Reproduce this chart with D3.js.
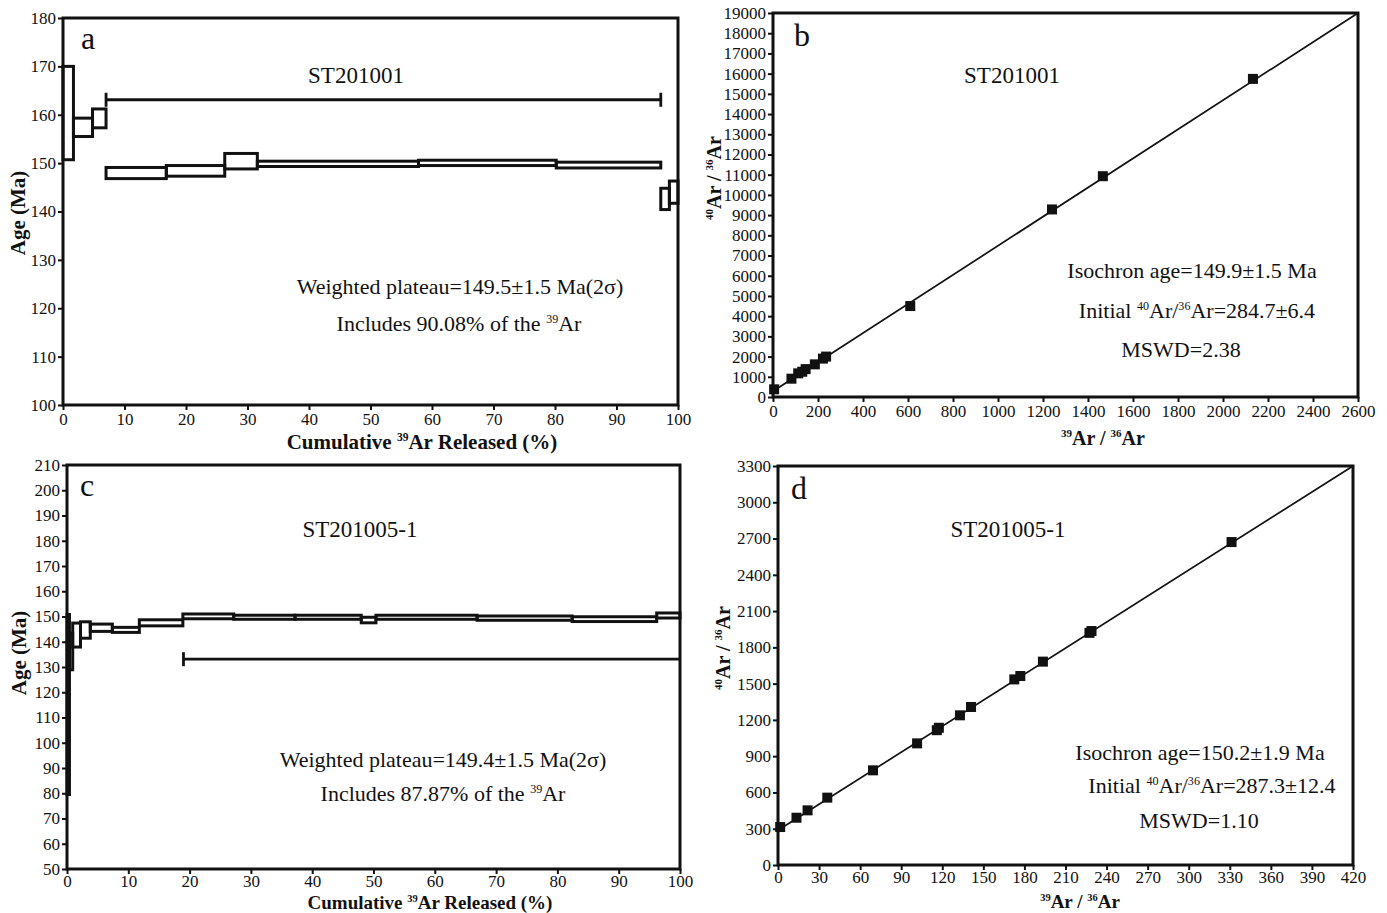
<!DOCTYPE html>
<html>
<head>
<meta charset="utf-8">
<script src="https://cdn.jsdelivr.net/npm/d3@7"></script>
<style>
  body { margin: 0; background: #fff; }
  svg text { font-family: "Liberation Serif", "Times New Roman", serif; fill: #111; }
</style>
</head>
<body>
<script>
// ---- panel a : ST201001 age spectrum ----
var stepsA_x  = [0, 1.7, 4.8, 7.0, 16.8, 26.3, 31.6, 57.8, 80.2, 97.2, 98.6, 100]
var stepsA_lo = [150.7, 155.5, 157.3, 146.8, 147.3, 148.8, 149.3, 149.5, 149.0, 140.4, 141.7]
var stepsA_hi = [170.0, 159.3, 161.2, 149.1, 149.5, 152.0, 150.4, 150.6, 150.2, 144.8, 146.3]
var plateauA = {from: 7.0, to: 97.2, age: 163.1, capL: true, capR: true}

// ---- panel c : ST201005-1 age spectrum ----
var stepsC_x  = [0, 0.4, 0.93, 2.2, 3.8, 7.4, 11.8, 18.9, 27.2, 37.2, 48.0, 50.4, 66.9, 82.4, 96.2, 100]
var stepsC_lo = [79.5, 128.9, 137.9, 141.4, 144.1, 143.7, 146.3, 149.1, 148.9, 148.9, 147.5, 148.9, 148.5, 148.0, 149.4]
var stepsC_hi = [150.8, 143.4, 147.4, 147.9, 147.0, 145.7, 148.7, 151.0, 150.5, 150.5, 149.7, 150.5, 150.2, 149.9, 151.4]
var plateauC = {from: 19.0, to: 100, age: 133.1, capL: true, capR: false}

// ---- panel b : ST201001 isochron ----
var isoB_x = [5, 82, 112, 130, 145, 186, 222, 236, 610, 1240, 1466, 2133]
var isoB_y = [380, 906, 1170, 1250, 1380, 1615, 1900, 2000, 4500, 9280, 10925, 15740]
var lineB = [[0, 284.7], [2600, 19000]]

// ---- panel d : ST201005-1 isochron ----
var isoD_x = [1.6, 13.5, 21.6, 36, 69.4, 101.6, 116, 117.5, 132.9, 141, 172.6, 177, 193.5, 227.5, 229, 331.3]
var isoD_y = [314, 391, 452, 557, 783, 1006, 1115, 1135, 1238, 1307, 1535, 1563, 1682, 1920, 1935, 2671]
var lineD = [[0, 287.3], [420, 3300]]

var ticksA_y = d3.range(100, 181, 10), ticksPct = d3.range(0, 101, 10)
var ticksC_y = d3.range(50, 211, 10)
var ticksB_x = d3.range(0, 2601, 200), ticksB_y = d3.range(0, 19001, 1000)
var ticksD_x = d3.range(0, 421, 30), ticksD_y = d3.range(0, 3301, 300)

var svg = d3.select("body").append("svg").attr("width", 1387).attr("height", 913)

function frame(x, y, xt, yt, pad) {
  var g = svg.append("g")
  g.append("g").attr("transform", "translate(0," + y.range()[0] + ")")
    .call(d3.axisBottom(x).tickValues(xt).tickSize(5).tickPadding(pad).tickFormat(d3.format("d")))
  g.append("g").attr("transform", "translate(" + x.range()[0] + ",0)")
    .call(d3.axisLeft(y).tickValues(yt).tickSize(5).tickPadding(2).tickFormat(d3.format("d")))
  g.selectAll(".domain").remove()
  g.selectAll(".tick line").attr("stroke", "#111").attr("stroke-width", 2)
  g.selectAll(".tick text").attr("font-size", 17).attr("font-family", "Liberation Serif").attr("fill", "#222")
  g.append("rect")
    .attr("x", x.range()[0]).attr("y", y.range()[1])
    .attr("width", x.range()[1] - x.range()[0]).attr("height", y.range()[0] - y.range()[1])
    .attr("fill", "none").attr("stroke", "#111").attr("stroke-width", 3)
  return g
}

function label(txt, x, y, size, opts) {
  opts = opts || {}
  var t = svg.append("text").attr("x", x).attr("y", y).attr("font-size", size)
    .attr("text-anchor", opts.anchor || "middle")
  if (opts.bold) t.attr("font-weight", "bold")
  if (opts.rot) t.attr("transform", "rotate(-90," + x + "," + y + ")")
  // txt is a list of [string, superscript?]
  var raised = false
  txt.forEach(function(p) {
    if (p[1]) {
      t.append("tspan").attr("font-size", size * 0.55).attr("dy", raised ? 0 : -size * 0.38).text(p[0])
      raised = true
    } else {
      var s = t.append("tspan").text(p[0])
      if (raised) s.attr("dy", size * 0.38)
      raised = false
    }
  })
  return t
}

function spectrum(x, y, xs, lo, hi, plat) {
  var g = svg.append("g")
  g.selectAll("rect").data(lo).enter().append("rect")
    .attr("x", function(d, i) { return x(xs[i]) })
    .attr("width", function(d, i) { return x(xs[i + 1]) - x(xs[i]) })
    .attr("y", function(d, i) { return y(hi[i]) })
    .attr("height", function(d, i) { return y(lo[i]) - y(hi[i]) })
    .attr("fill", "none").attr("stroke", "#111").attr("stroke-width", 3)
  var py = y(plat.age)
  g.append("line").attr("x1", x(plat.from)).attr("x2", x(plat.to)).attr("y1", py).attr("y2", py)
    .attr("stroke", "#111").attr("stroke-width", 2.8)
  if (plat.capL) g.append("line").attr("x1", x(plat.from)).attr("x2", x(plat.from))
    .attr("y1", py - 7).attr("y2", py + 7).attr("stroke", "#111").attr("stroke-width", 2.8)
  if (plat.capR) g.append("line").attr("x1", x(plat.to)).attr("x2", x(plat.to))
    .attr("y1", py - 7).attr("y2", py + 7).attr("stroke", "#111").attr("stroke-width", 2.8)
}

function isochron(x, y, xs, ys, ln) {
  var g = svg.append("g")
  g.append("line").attr("x1", x(ln[0][0])).attr("y1", y(ln[0][1]))
    .attr("x2", x(ln[1][0])).attr("y2", y(ln[1][1])).attr("stroke", "#111").attr("stroke-width", 1.7)
  g.selectAll("rect").data(xs).enter().append("rect")
    .attr("x", function(d) { return x(d) - 5 })
    .attr("y", function(d, i) { return y(ys[i]) - 5 })
    .attr("width", 10).attr("height", 10).attr("fill", "#111")
}

// ---- scales ----
var xA = d3.scaleLinear().domain([0, 100]).range([63, 678])
var yA = d3.scaleLinear().domain([100, 180]).range([405, 18])
var xB = d3.scaleLinear().domain([0, 2600]).range([773, 1358])
var yB = d3.scaleLinear().domain([0, 19000]).range([397, 13])
var xC = d3.scaleLinear().domain([0, 100]).range([67, 680])
var yC = d3.scaleLinear().domain([50, 210]).range([869, 465])
var xD = d3.scaleLinear().domain([0, 420]).range([778, 1353])
var yD = d3.scaleLinear().domain([0, 3300]).range([865, 466])

frame(xA, yA, ticksPct, ticksA_y, 3)
frame(xB, yB, ticksB_x, ticksB_y, 3)
frame(xC, yC, ticksPct, ticksC_y, 1)
frame(xD, yD, ticksD_x, ticksD_y, 1)

spectrum(xA, yA, stepsA_x, stepsA_lo, stepsA_hi, plateauA)
spectrum(xC, yC, stepsC_x, stepsC_lo, stepsC_hi, plateauC)
isochron(xB, yB, isoB_x, isoB_y, lineB)
isochron(xD, yD, isoD_x, isoD_y, lineD)

// panel letters and sample names
label([["a"]], 81, 49, 32, {anchor: "start"})
label([["b"]], 794, 46, 32, {anchor: "start"})
label([["c"]], 80, 496, 32, {anchor: "start"})
label([["d"]], 791, 499, 32, {anchor: "start"})
label([["ST201001"]], 356, 83, 23)
label([["ST201001"]], 1012, 83, 23)
label([["ST201005-1"]], 360, 537, 23)
label([["ST201005-1"]], 1008, 537, 23)

// annotations
label([["Weighted plateau=149.5\u00b11.5 Ma(2\u03c3)"]], 460, 294, 22)
label([["Includes 90.08% of the "], ["39", 1], ["Ar"]], 459, 331, 22)
label([["Weighted plateau=149.4\u00b11.5 Ma(2\u03c3)"]], 443, 767, 22)
label([["Includes 87.87% of the "], ["39", 1], ["Ar"]], 443, 801, 22)
label([["Isochron age=149.9\u00b11.5 Ma"]], 1192, 278, 22)
label([["Initial "], ["40", 1], ["Ar/"], ["36", 1], ["Ar=284.7\u00b16.4"]], 1197, 318, 22)
label([["MSWD=2.38"]], 1181, 357, 22)
label([["Isochron age=150.2\u00b11.9 Ma"]], 1200, 760, 22)
label([["Initial "], ["40", 1], ["Ar/"], ["36", 1], ["Ar=287.3\u00b112.4"]], 1212, 793, 22)
label([["MSWD=1.10"]], 1199, 828, 22)

// axis titles
label([["Cumulative "], ["39", 1], ["Ar Released (%)"]], 422, 449, 21, {bold: true})
label([["Cumulative "], ["39", 1], ["Ar Released (%)"]], 430, 909, 19, {bold: true})
label([["Age (Ma)"]], 25, 213, 21, {bold: true, rot: true})
label([["Age (Ma)"]], 26, 653, 21, {bold: true, rot: true})
label([["39", 1], ["Ar / "], ["36", 1], ["Ar"]], 1103, 445, 20, {bold: true})
label([["39", 1], ["Ar / "], ["36", 1], ["Ar"]], 1080, 908, 19, {bold: true})
label([["40", 1], ["Ar / "], ["36", 1], ["Ar"]], 721, 178, 20, {bold: true, rot: true})
label([["40", 1], ["Ar / "], ["36", 1], ["Ar"]], 730, 648, 20, {bold: true, rot: true})
</script>
</body>
</html>
